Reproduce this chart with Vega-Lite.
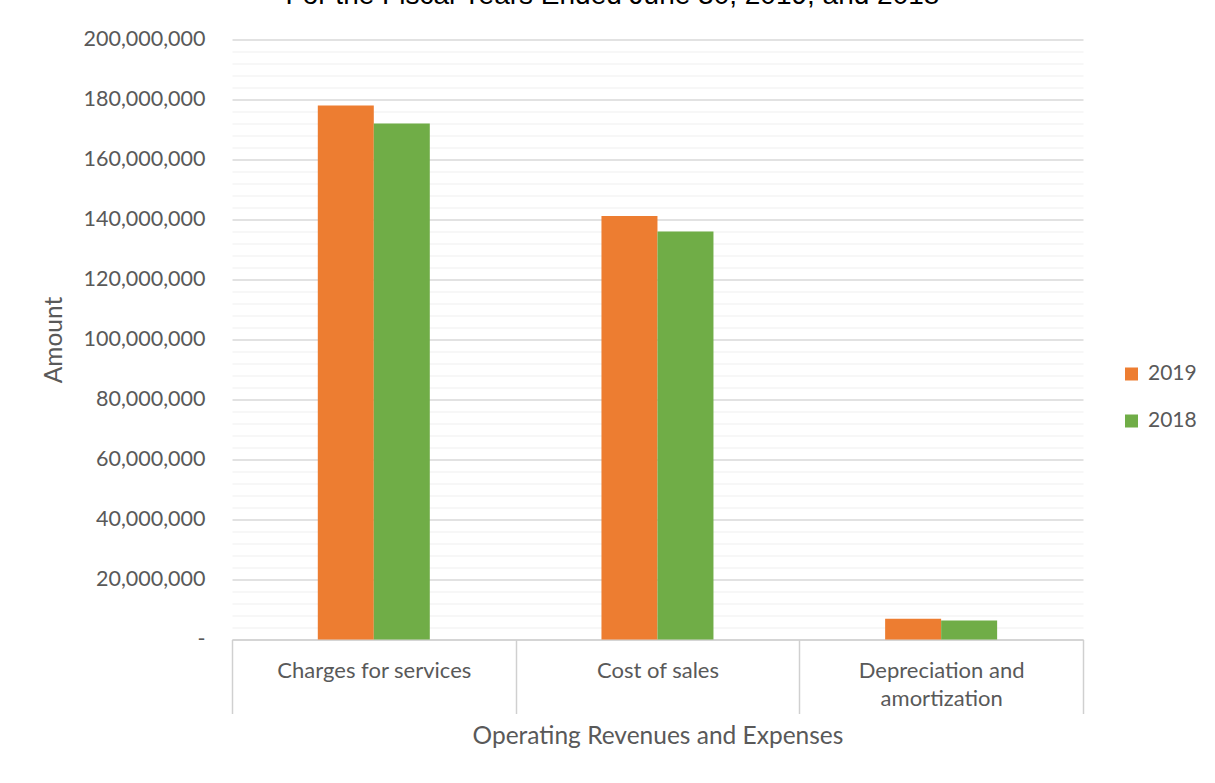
{
  "$schema": "https://vega.github.io/schema/vega-lite/v6.json",
  "autosize": {"type": "none"},
  "padding": {"left": 232, "top": 39.5, "right": 132, "bottom": 144},
  "width": 851,
  "height": 600,
  "background": "white",
  "title": {
    "text": "For the Fiscal Years Ended June 30, 2019, and 2018",
    "font": "Liberation Sans",
    "fontSize": 28,
    "fontWeight": "normal",
    "color": "#000000",
    "anchor": "middle",
    "frame": "group",
    "dx": -45,
    "baseline": "alphabetic",
    "offset": 0,
    "dy": 3
  },
  "data": {
    "values": [
      {"category": "Charges for services", "year": "2019", "amount": 178000000},
      {"category": "Charges for services", "year": "2018", "amount": 172000000},
      {"category": "Cost of sales", "year": "2019", "amount": 141200000},
      {"category": "Cost of sales", "year": "2018", "amount": 136000000},
      {"category": "Depreciation and amortization", "year": "2019", "amount": 6900000},
      {"category": "Depreciation and amortization", "year": "2018", "amount": 6300000}
    ]
  },
  "mark": {"type": "bar"},
  "encoding": {
    "x": {
      "field": "category",
      "type": "nominal",
      "sort": null,
      "scale": {"paddingInner": 0, "paddingOuter": 0},
      "axis": {
        "title": "Operating Revenues and Expenses",
        "titleFont": "Lato",
        "titleFontSize": 24.5,
        "titleFontWeight": "normal",
        "titleColor": "#595959",
        "titlePadding": 10,
        "labelAngle": 0,
        "labelFont": "Lato",
        "labelFontSize": 22,
        "labelColor": "#595959",
        "labelBaseline": "top",
        "labelLineHeight": 28,
        "labelPadding": -53,
        "labelLimit": 300,
        "labelExpr": "datum.value == 'Depreciation and amortization' ? ['Depreciation and', 'amortization'] : datum.value",
        "tickBand": "extent",
        "tickSize": 74,
        "tickColor": "#d0d0d0",
        "tickWidth": 1.5,
        "domainColor": "#d0d0d0",
        "domainWidth": 1.5,
        "grid": false
      }
    },
    "xOffset": {
      "field": "year",
      "type": "nominal",
      "scale": {"domain": ["2019", "2018"], "range": [85.8, 197.8], "paddingInner": 0, "paddingOuter": 0}
    },
    "y": {
      "field": "amount",
      "type": "quantitative",
      "scale": {"domain": [0, 200000000], "nice": false},
      "axis": {
        "title": "Amount",
        "titleFont": "Lato",
        "titleFontSize": 24.5,
        "titleFontWeight": "normal",
        "titleColor": "#595959",
        "titlePadding": 17,
        "values": [0, 4000000, 8000000, 12000000, 16000000, 20000000, 24000000, 28000000, 32000000, 36000000, 40000000, 44000000, 48000000, 52000000, 56000000, 60000000, 64000000, 68000000, 72000000, 76000000, 80000000, 84000000, 88000000, 92000000, 96000000, 100000000, 104000000, 108000000, 112000000, 116000000, 120000000, 124000000, 128000000, 132000000, 136000000, 140000000, 144000000, 148000000, 152000000, 156000000, 160000000, 164000000, 168000000, 172000000, 176000000, 180000000, 184000000, 188000000, 192000000, 196000000, 200000000],
        "labelExpr": "datum.value === 0 ? '-\u00a0\u00a0\u00a0' : (datum.value % 20000000 === 0 ? format(datum.value, ',') : '')",
        "labelFont": "Lato",
        "labelFontSize": 21.5,
        "labelColor": "#595959",
        "labelPadding": 27,
        "labelOverlap": false,
        "labelBound": false,
        "labelFlush": false,
        "ticks": false,
        "tickSize": 0,
        "domain": false,
        "grid": true,
        "gridColor": {"condition": {"test": "datum.value % 20000000 === 0", "value": "#d9d9d9"}, "value": "#efefef"},
        "gridWidth": {"condition": {"test": "datum.value % 20000000 === 0", "value": 1.6}, "value": 1.2}
      }
    },
    "color": {
      "field": "year",
      "type": "nominal",
      "scale": {"domain": ["2019", "2018"], "range": ["#ED7D31", "#70AD47"]},
      "legend": {
        "title": null,
        "orient": "none",
        "legendX": 889,
        "legendY": 324,
        "symbolType": "square",
        "symbolSize": 169,
        "symbolStrokeWidth": 0,
        "labelFont": "Lato",
        "labelFontSize": 21,
        "labelColor": "#595959",
        "labelOffset": 6,
        "rowPadding": 25
      }
    }
  },
  "config": {
    "view": {"stroke": null}
  }
}
